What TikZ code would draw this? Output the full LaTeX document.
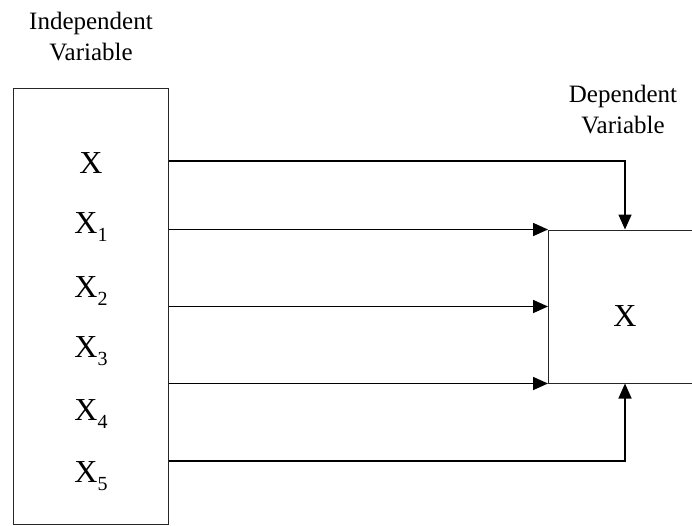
\documentclass[tikz,border=0pt]{standalone}
\usepackage{fontspec}
\setmainfont{Liberation Serif}
\usetikzlibrary{arrows.meta}
\newcommand{\varX}[1]{X\raisebox{-8pt}{\fontsize{20}{20}\selectfont #1}}
\tikzset{
  boxline/.style={draw=black!85, line width=1pt},
  conn/.style={line width=1.6pt, black},
  arr/.style={conn, -{Triangle[length=15pt,width=13pt]}},
  lbl/.style={font=\fontsize{25}{31}\selectfont, align=center, anchor=base, inner sep=0pt},
  item/.style={font=\fontsize{32}{32}\selectfont, anchor=base, inner sep=0pt}
}
\begin{document}
\begin{tikzpicture}[x=1pt,y=-1pt]
\useasboundingbox (0,0) rectangle (692,525);
\begin{scope}
\clip (0,0) rectangle (692,525);
% boxes
\node[boxline, minimum width=155pt, minimum height=436pt, inner sep=0pt] (L) at (90.5,306) {};
\node[boxline, minimum width=200pt, minimum height=153pt, inner sep=0pt, anchor=west] (R) at (548,306.5) {};
\end{scope}
% labels
\node[lbl] (indep) at (91,60) {Independent\\Variable};
\node[lbl] (dep) at (623,133) {Dependent\\Variable};
% items
\node[item] (x0) at (91,173) {X};
\node[item] (x1) at (91,233) {\varX{1}};
\node[item] (x2) at (91,297) {\varX{2}};
\node[item] (x3) at (91,357) {\varX{3}};
\node[item] (x4) at (91,420) {\varX{4}};
\node[item] (x5) at (91,482) {\varX{5}};
\node[item] (rx) at (625,326) {X};
% connector anchors
\coordinate (s0) at (L.east |- 0,161);
\coordinate (s5) at (L.east |- 0,461);
\coordinate (t0) at (R.north west -| 625,0);
\coordinate (t5) at (R.south west -| 625,0);
\coordinate (r2) at (R.west);
% connectors
\draw[arr] (s0) -| (t0);
\draw[arr] (L.east |- R.north west) -- (R.north west);
\draw[arr] (L.east |- r2) -- (r2);
\draw[arr] (L.east |- R.south west) -- (R.south west);
\draw[arr] (s5) -| (t5);
\end{tikzpicture}
\end{document}
